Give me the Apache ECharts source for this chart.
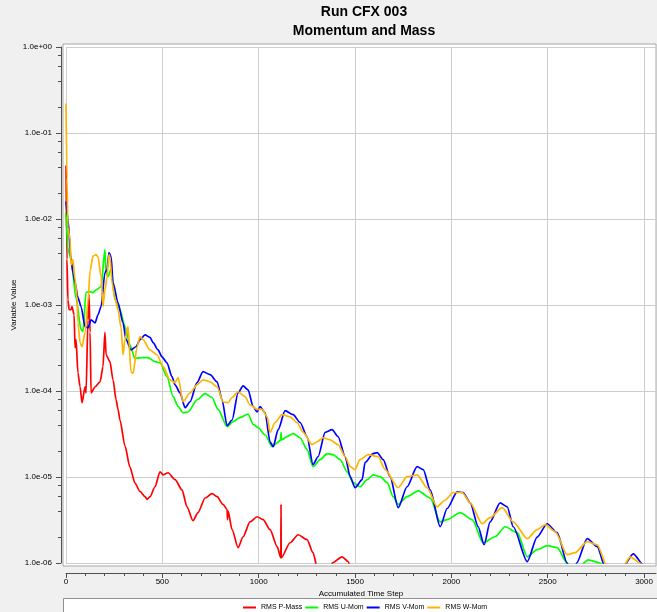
<!DOCTYPE html>
<html>
<head>
<meta charset="utf-8">
<title>Run CFX 003</title>
<script src="https://cdn.jsdelivr.net/npm/echarts@6/dist/echarts.min.js"></script>
<style>
html,body{margin:0;padding:0;background:#f0f0f0;}
#main{width:657px;height:612px;}
</style>
</head>
<body>
<div id="main"></div>
<script>
// 数据 [时间步, 残差]
var seriesNames = ['RMS P-Mass', 'RMS U-Mom', 'RMS V-Mom', 'RMS W-Mom'];
var seriesColors = ['#ff0000', '#00ff00', '#0000ff', '#ffb400'];
var xTickValues = [0, 500, 1000, 1500, 2000, 2500, 3000];

var rmsPMass = [[0,4.2e-2],[5,3.4e-3],[10,1.15e-3],[16,8.8e-4],[26,8.8e-4],[31,9.6e-4],[42,7.7e-4],[47,3.2e-4],[52,3.95e-4],[62,1.63e-4],[73,1.12e-4],[83,7.3e-5],[99,1.12e-4],[104,9.5e-5],[114,6.7e-4],[119,1.32e-3],[125,4.8e-4],[130,9.5e-5],[151,1.12e-4],[177,1.28e-4],[192,1.92e-4],[202,4.8e-4],[208,2.64e-4],[228,2.19e-4],[244,1.35e-4],[260,7.9e-5],[270,6.1e-5],[280,4.6e-5],[306,2.3e-5],[332,1.3e-5],[358,8.5e-6],[384,6.8e-6],[410,5.9e-6],[421,5.5e-6],[436,5.9e-6],[462,7.7e-6],[488,1.15e-5],[504,1.06e-5],[530,1.12e-5],[566,9.3e-6],[602,7.1e-6],[628,4.5e-6],[659,3.1e-6],[685,3.85e-6],[722,5.7e-6],[758,6.4e-6],[784,5.9e-6],[815,4.8e-6],[836,4.2e-6],[838,3.2e-6],[841,4.0e-6],[862,2.44e-6],[893,1.51e-6],[919,2.02e-6],[955,3.0e-6],[992,3.45e-6],[1023,3.2e-6],[1059,2.44e-6],[1096,1.55e-6],[1115,1.15e-6],[1116,4.8e-6],[1117,1.15e-6],[1163,1.72e-6],[1205,2.13e-6],[1251,1.87e-6],[1282,1.32e-6],[1303,9e-7],[1340,5e-7],[1371,8e-7],[1381,1.0e-6],[1433,1.18e-6],[1464,1.04e-6],[1490,7e-7],[1520,5e-7]];

var rmsUMom = [[0,1.2e-2],[10,4.5e-3],[26,3.4e-3],[52,1.2e-3],[78,5.2e-4],[88,4.9e-4],[104,1.4e-3],[125,1.43e-3],[140,1.39e-3],[156,1.5e-3],[182,1.63e-3],[202,4.4e-3],[208,2.37e-3],[218,2.13e-3],[234,2.6e-3],[254,1.15e-3],[280,8.8e-4],[306,5.6e-4],[332,3.45e-4],[358,2.38e-4],[389,2.44e-4],[426,2.44e-4],[462,2.19e-4],[488,2.13e-4],[524,1.47e-4],[556,8.6e-5],[582,6.6e-5],[607,5.6e-5],[633,5.7e-5],[680,7.9e-5],[722,9.3e-5],[758,8.4e-5],[789,6.1e-5],[836,3.85e-5],[867,4.4e-5],[903,4.9e-5],[945,5.4e-5],[971,4.1e-5],[997,3.75e-5],[1033,3.1e-5],[1070,2.25e-5],[1096,2.5e-5],[1114,2.7e-5],[1116,3.3e-5],[1118,2.7e-5],[1147,2.95e-5],[1179,3.2e-5],[1215,2.86e-5],[1251,2.08e-5],[1282,1.32e-5],[1319,1.59e-5],[1355,1.87e-5],[1386,1.82e-5],[1423,1.59e-5],[1459,1.15e-5],[1490,8.6e-6],[1526,7.7e-6],[1563,9.3e-6],[1594,1.06e-5],[1630,1.01e-5],[1667,8.6e-6],[1698,5.9e-6],[1724,4.8e-6],[1770,5.9e-6],[1828,6.9e-6],[1890,5.7e-6],[1942,3.0e-6],[1978,3.2e-6],[2046,3.85e-6],[2108,3.2e-6],[2165,1.72e-6],[2227,2.02e-6],[2279,2.64e-6],[2342,2.25e-6],[2394,1.18e-6],[2445,1.43e-6],[2497,1.59e-6],[2549,1.51e-6],[2601,1.0e-6],[2640,8e-7],[2711,1.09e-6],[2773,1.0e-6],[2820,7e-7],[2900,6e-7],[2980,8e-7],[3030,7e-7]];

var rmsVMom = [[0,1.6e-2],[10,1.0e-2],[26,3.4e-3],[36,2.37e-3],[47,1.82e-3],[62,1.22e-3],[78,9.6e-4],[99,5.6e-4],[114,5.4e-4],[130,6.7e-4],[151,6.2e-4],[166,7.7e-4],[182,9.6e-4],[202,2.37e-3],[213,2.57e-3],[223,4.06e-3],[234,3.65e-3],[244,1.82e-3],[270,1.06e-3],[296,6.2e-4],[312,3.95e-4],[337,3.0e-4],[363,3.27e-4],[384,3.95e-4],[410,4.5e-4],[436,4.2e-4],[452,3.65e-4],[478,3.0e-4],[498,2.5e-4],[524,2.13e-4],[550,1.47e-4],[566,1.18e-4],[592,9.5e-5],[618,6.4e-5],[644,7.5e-5],[680,1.25e-4],[711,1.68e-4],[748,1.55e-4],[784,1.28e-4],[810,7.9e-5],[836,3.95e-5],[862,4.6e-5],[893,9.5e-5],[919,1.15e-4],[945,1.03e-4],[971,6.6e-5],[992,5.7e-5],[1007,6.6e-5],[1033,5.6e-5],[1059,2.57e-5],[1075,2.25e-5],[1101,3.55e-5],[1137,5.9e-5],[1179,5.3e-5],[1215,4.3e-5],[1251,2.95e-5],[1282,1.39e-5],[1308,1.72e-5],[1345,3.3e-5],[1381,3.55e-5],[1412,2.95e-5],[1449,1.72e-5],[1475,1.01e-5],[1500,7.5e-6],[1537,9.3e-6],[1552,1.47e-5],[1594,1.87e-5],[1615,1.92e-5],[1646,1.59e-5],[1682,1.01e-5],[1724,4.4e-6],[1770,7.7e-6],[1822,1.32e-5],[1854,1.22e-5],[1890,7.1e-6],[1942,2.64e-6],[1978,4.3e-6],[2030,6.7e-6],[2061,6.6e-6],[2098,5.0e-6],[2139,2.64e-6],[2170,1.63e-6],[2201,3.0e-6],[2253,5.0e-6],[2290,4.5e-6],[2321,2.64e-6],[2394,1.04e-6],[2445,2.0e-6],[2497,2.86e-6],[2549,2.25e-6],[2601,1.0e-6],[2625,6e-7],[2650,1.0e-6],[2705,1.92e-6],[2757,1.55e-6],[2798,9e-7],[2830,6e-7],[2890,9e-7],[2944,1.28e-6],[2996,9.5e-7],[3030,6e-7]];

var rmsWMom = [[0,2.2e-1],[5,3.0e-2],[10,8.0e-3],[21,5.8e-3],[26,2.94e-3],[36,3.37e-3],[47,1.97e-3],[57,1.25e-3],[62,6.2e-4],[73,3.65e-4],[83,3.27e-4],[99,4.8e-4],[114,1.1e-3],[125,2.5e-3],[140,3.7e-3],[156,3.85e-3],[166,3.65e-3],[182,2.13e-3],[192,9.6e-4],[202,1.5e-3],[213,2.13e-3],[223,3.85e-3],[228,3.65e-3],[239,1.82e-3],[254,1.2e-3],[270,8.8e-4],[286,5.4e-4],[296,2.64e-4],[306,3.95e-4],[322,5.6e-4],[337,1.68e-4],[348,1.6e-4],[369,3.27e-4],[384,4.3e-4],[400,3.95e-4],[436,3.0e-4],[472,2.64e-4],[504,1.92e-4],[540,1.35e-4],[566,1.25e-4],[582,1.43e-4],[607,7.5e-5],[644,9.5e-5],[680,1.18e-4],[711,1.35e-4],[748,1.28e-4],[784,1.12e-4],[815,7.5e-5],[841,7.3e-5],[862,8.4e-5],[893,9.8e-5],[929,8.6e-5],[955,6.9e-5],[992,6.1e-5],[1018,6.1e-5],[1044,5.0e-5],[1059,3.3e-5],[1085,4.3e-5],[1121,5.3e-5],[1163,5.0e-5],[1199,4.3e-5],[1231,3.3e-5],[1277,2.38e-5],[1303,2.57e-5],[1334,2.86e-5],[1371,2.7e-5],[1412,2.38e-5],[1449,1.72e-5],[1475,1.32e-5],[1500,1.22e-5],[1526,1.59e-5],[1568,1.82e-5],[1620,1.72e-5],[1656,1.22e-5],[1724,7.5e-6],[1770,1.01e-5],[1822,1.06e-5],[1874,7.5e-6],[1926,4.5e-6],[1968,5.4e-6],[2009,6.6e-6],[2056,6.6e-6],[2098,5.0e-6],[2160,2.86e-6],[2201,3.37e-6],[2264,4.4e-6],[2321,3.0e-6],[2394,1.92e-6],[2445,2.44e-6],[2487,2.79e-6],[2539,2.31e-6],[2601,1.25e-6],[2643,1.32e-6],[2705,1.77e-6],[2757,1.63e-6],[2809,9e-7],[2850,6e-7],[2890,9e-7],[2928,1.18e-6],[2980,1.0e-6],[3030,6.5e-7]];

var allData = [rmsPMass, rmsUMom, rmsVMom, rmsWMom];

var fontName = 'Liberation Sans';
var axisColor = '#505050';
var gridColor = '#cdcdcd';

// 副刻度位置
var xMinorTicks = [];
for (var i = 100; i <= 3000; i += 100) {
    xMinorTicks.push(i);
}
var yMinorTicks = [];
for (var e = -6; e < 0; e++) {
    [2, 4, 6, 8].forEach(function (k) {
        yMinorTicks.push(e + Math.log10(k));
    });
}

function expLabel(v) {
    var lg = Math.log10(v);
    var ex = Math.round(lg);
    if (Math.abs(lg - ex) > 1e-6) return '';
    var a = Math.abs(ex);
    return '1.0e' + (ex < 0 ? '-' : '+') + (a < 10 ? '0' : '') + a;
}

var series = [];
allData.forEach(function (item, i) {
    series.push({
        name: seriesNames[i],
        type: 'line',
        xAxisIndex: 0,
        yAxisIndex: 0,
        data: item,
        showSymbol: false,
        symbol: 'none',
        smooth: 0.25,
        smoothMonotone: 'x',
        clip: true,
        lineStyle: { width: 1.7, color: seriesColors[i] },
        itemStyle: { color: seriesColors[i] }
    });
});

var myChart = echarts.init(document.getElementById('main'));
var option = {
    backgroundColor: '#f0f0f0',
    animation: false,
    title: {
        text: 'Run CFX 003\nMomentum and Mass',
        left: 364,
        top: 3,
        padding: 0,
        textAlign: 'center',
        textStyle: {
            fontFamily: fontName,
            fontSize: 14,
            fontWeight: 'bold',
            color: '#000',
            lineHeight: 19
        }
    },
    legend: {
        data: seriesNames,
        left: 243,
        top: 604,
        padding: 0,
        icon: 'rect',
        itemWidth: 13,
        itemHeight: 2,
        itemGap: 3,
        textStyle: { fontFamily: fontName, fontSize: 7, color: '#000' }
    },
    grid: {
        left: 66,
        right: 1,
        top: 47,
        bottom: 49,
        outerBoundsMode: 'none',
        containLabel: false
    },
    graphic: [
        {
            type: 'rect',
            z: -10,
            shape: { x: 63, y: 44, width: 593, height: 522 },
            style: { fill: '#fff', stroke: '#a8a8a8', lineWidth: 1 }
        },
        {
            type: 'rect',
            z: -10,
            shape: { x: 63.5, y: 598.5, width: 610, height: 20 },
            style: { fill: '#fff', stroke: '#909090', lineWidth: 1 }
        }
    ],
    xAxis: [
        {
            type: 'value',
            min: 0,
            max: 3062,
            interval: 500,
            position: 'bottom',
            offset: 10,
            name: 'Accumulated Time Step',
            nameLocation: 'middle',
            nameGap: 17,
            nameMoveOverlap: false,
            nameTextStyle: { fontFamily: fontName, fontSize: 8, color: '#000' },
            axisLine: { show: true, onZero: false, lineStyle: { color: axisColor } },
            axisTick: { show: true, length: 5, customValues: xTickValues, lineStyle: { color: axisColor } },
            axisLabel: {
                customValues: xTickValues,
                formatter: function (v) { return String(v); },
                fontFamily: fontName,
                fontSize: 8,
                color: '#000',
                margin: 5
            },
            splitLine: { show: true, lineStyle: { color: gridColor } }
        },
        {
            type: 'value',
            min: 0,
            max: 3062,
            position: 'bottom',
            offset: 10,
            axisLine: { show: false, onZero: false },
            axisTick: { show: true, length: 3, customValues: xMinorTicks, lineStyle: { color: axisColor } },
            axisLabel: { show: false },
            splitLine: { show: false }
        }
    ],
    yAxis: [
        {
            type: 'log',
            logBase: 10,
            min: 1e-6,
            max: 1,
            position: 'left',
            offset: 5,
            name: 'Variable Value',
            nameLocation: 'middle',
            nameGap: 43,
            nameMoveOverlap: false,
            nameTextStyle: { fontFamily: fontName, fontSize: 8, color: '#000' },
            axisLine: { show: true, onZero: false, lineStyle: { color: axisColor } },
            axisTick: { show: true, length: 5, lineStyle: { color: axisColor } },
            axisLabel: {
                formatter: expLabel,
                fontFamily: fontName,
                fontSize: 8,
                color: '#000',
                margin: 9
            },
            splitLine: { show: true, lineStyle: { color: gridColor } }
        },
        {
            type: 'value',
            min: -6,
            max: 0,
            position: 'left',
            offset: 5,
            axisLine: { show: false, onZero: false },
            axisTick: { show: true, length: 3, customValues: yMinorTicks, lineStyle: { color: axisColor } },
            axisLabel: { show: false },
            splitLine: { show: false }
        }
    ],
    series: series
};
myChart.setOption(option);
</script>
</body>
</html>
